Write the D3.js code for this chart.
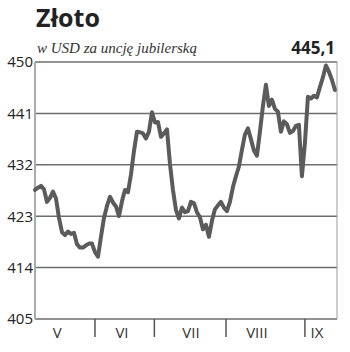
<!DOCTYPE html>
<html>
<head>
<meta charset="utf-8">
<script src="https://cdn.jsdelivr.net/npm/d3@7"></script>
<style>
    body { margin: 0; background: #fff; }
    svg { display: block; }
</style>
</head>
<body>
<div id="chart"></div>
<script>
// gold price, USD per troy ounce, May - mid September (roughly one value per trading day)
var prices = [
    427.6, 428.0, 428.3, 427.7, 425.5, 426.2, 427.3, 426.1, 422.7, 420.2,
    419.7, 420.3, 419.9, 420.1, 418.1, 417.5, 417.5, 417.9, 418.2, 418.2,
    416.7, 415.9, 419.4, 422.7, 424.8, 426.4, 425.4, 424.7, 423.0, 425.6,
    427.6, 427.2, 430.3, 434.4, 437.8, 437.7, 437.5, 436.6, 437.8, 441.2,
    439.4, 439.5, 436.9, 437.5, 438.2, 432.2, 427.6, 424.1, 422.6, 424.5,
    423.7, 423.9, 425.5, 425.3, 423.7, 422.8, 420.7, 421.5, 419.4, 422.2,
    424.2, 424.9, 425.5, 424.5, 423.9, 425.5, 428.1, 430.0, 431.7, 434.6,
    437.3, 438.4, 436.5, 434.5, 433.6, 437.8, 442.3, 446.0, 442.3, 443.4,
    441.8, 441.3, 437.8, 439.6, 439.1, 437.6, 437.9, 438.8, 439.0, 430.0,
    435.8, 443.9, 443.6, 444.1, 443.8, 445.6, 447.3, 449.4, 448.3, 446.9,
    445.1
];

var yTicks = [405, 414, 423, 432, 441, 450];
var months = ["V", "VI", "VII", "VIII", "IX"];
// month boundaries and label spots, in the same units as the price index
var monthBounds = [0, 20, 39.8, 63.7, 90, 100.7];
var monthLabelAt = [7.4, 29, 52, 74, 94];

var title = "Złoto",
    subtitle = "w USD za uncję jubilerską",
    lastLabel = "445,1";

var W = 350, H = 352;
var margin = {top: 62, right: 13, bottom: 33, left: 35},
    width = W - margin.left - margin.right,
    height = H - margin.top - margin.bottom;

var svg = d3.select("#chart").append("svg")
    .attr("width", W)
    .attr("height", H);

svg.append("text")
    .attr("x", 36)
    .attr("y", 27)
    .attr("font-family", "'Open Sans', sans-serif")
    .attr("font-weight", "bold")
    .attr("font-size", 25)
    .attr("fill", "#222")
    .text(title);

svg.append("text")
    .attr("x", 37)
    .attr("y", 53)
    .attr("font-family", "'Liberation Serif', serif")
    .attr("font-style", "italic")
    .attr("font-size", 15)
    .attr("fill", "#333")
    .text(subtitle);

svg.append("text")
    .attr("x", 335)
    .attr("y", 54)
    .attr("text-anchor", "end")
    .attr("font-family", "'Open Sans', sans-serif")
    .attr("font-weight", "bold")
    .attr("font-size", 17)
    .attr("fill", "#222")
    .text(lastLabel);

var g = svg.append("g")
    .attr("transform", "translate(" + margin.left + "," + margin.top + ")");

var x = d3.scaleLinear()
    .domain([0, monthBounds[monthBounds.length - 1]])
    .range([0, width]);

var y = d3.scaleLinear()
    .domain([405, 450])
    .range([height, 0]);

// horizontal grid lines
g.selectAll(".grid")
    .data(yTicks)
    .enter().append("line")
    .attr("class", "grid")
    .attr("x1", 0)
    .attr("x2", width)
    .attr("y1", function (d) { return y(d); })
    .attr("y2", function (d) { return y(d); })
    .attr("stroke", "#6e6e6e")
    .attr("stroke-width", 1.5);

// right border
g.append("line")
    .attr("x1", width).attr("x2", width)
    .attr("y1", 0).attr("y2", height)
    .attr("stroke", "#9a9a9a")
    .attr("stroke-width", 1);

// left axis line
g.append("line")
    .attr("x1", 0).attr("x2", 0)
    .attr("y1", 0).attr("y2", height)
    .attr("stroke", "#ababab")
    .attr("stroke-width", 2);

// y labels
g.selectAll(".ylab")
    .data(yTicks)
    .enter().append("text")
    .attr("class", "ylab")
    .attr("x", -2)
    .attr("y", function (d) { return y(d); })
    .attr("dy", "0.36em")
    .attr("text-anchor", "end")
    .attr("font-family", "'Open Sans', sans-serif")
    .attr("font-size", 15)
    .attr("fill", "#222")
    .text(function (d) { return d; });

// month separators
g.selectAll(".mtick")
    .data(monthBounds.slice(1, months.length))
    .enter().append("line")
    .attr("class", "mtick")
    .attr("x1", function (d) { return x(d); })
    .attr("x2", function (d) { return x(d); })
    .attr("y1", height)
    .attr("y2", height + 18)
    .attr("stroke", "#555")
    .attr("stroke-width", 1.5);

g.selectAll(".mlab")
    .data(months)
    .enter().append("text")
    .attr("class", "mlab")
    .attr("x", function (d, i) { return x(monthLabelAt[i]); })
    .attr("y", height + 19)
    .attr("text-anchor", "middle")
    .attr("font-family", "'Open Sans', sans-serif")
    .attr("font-size", 15)
    .attr("fill", "#333")
    .text(function (d) { return d; });

var line = d3.line()
    .x(function (d, i) { return x(i); })
    .y(function (d) { return y(d); });

g.append("path")
    .datum(prices)
    .attr("d", line)
    .attr("fill", "none")
    .attr("stroke", "#5b5b5b")
    .attr("stroke-width", 4)
    .attr("stroke-linejoin", "round")
    .attr("stroke-linecap", "round");
</script>
</body>
</html>
